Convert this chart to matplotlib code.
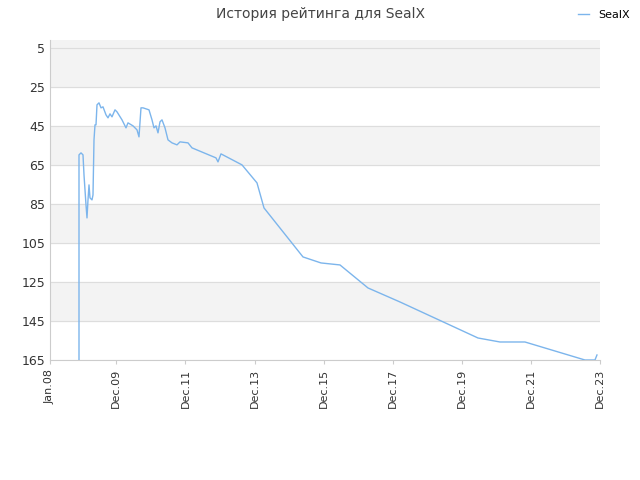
import matplotlib
matplotlib.use("Agg")
import matplotlib.pyplot as plt

# pixel readings converted to (fractional year, rank)
px_x = [79, 79, 81, 83, 84, 86, 87, 88, 89, 90, 92, 93, 94, 95, 96, 97, 99, 101, 103,
        106, 108, 110, 112, 115, 117, 122, 126, 128, 133, 137, 139, 141, 143, 149, 152,
        154, 156, 158, 160, 162, 165, 168, 172, 177, 180, 188, 192, 216, 218, 221, 242,
        257, 264, 303, 321, 340, 368, 400, 478, 500, 525, 585, 595, 597]
px_y = [360, 155, 153, 155, 175, 205, 218, 200, 185, 198, 200, 195, 140, 125, 125, 105,
        103, 108, 107, 115, 118, 114, 117, 110, 112, 120, 128, 123, 126, 130, 137, 108,
        108, 110, 120, 128, 126, 133, 122, 120, 128, 140, 143, 145, 142, 143, 148, 158,
        162, 154, 165, 183, 208, 257, 263, 265, 288, 302, 338, 342, 342, 360, 360, 355]
years = [2008 + (x - 50) / 34.55 for x in px_x]
ranks = [5 + (y - 48) / 1.95 for y in px_y]

tick_years = [2008.0, 2009.92, 2011.92, 2013.92, 2015.92, 2017.92, 2019.92, 2021.92, 2023.92]
tick_labels = ["Jan.08", "Dec.09", "Dec.11", "Dec.13", "Dec.15", "Dec.17", "Dec.19", "Dec.21", "Dec.23"]
y_ticks = [5, 25, 45, 65, 85, 105, 125, 145, 165]

fig = plt.figure(figsize=(6.4, 4.8), dpi=100)
ax = fig.add_axes([50 / 640, 1 - 360 / 480, 550 / 640, 320 / 480])
ax.set_facecolor("white")
ax.axhspan(1, 5, color="#f3f3f3", zorder=0)
for lo in [5, 45, 85, 125]:
    ax.axhspan(lo, lo + 20, color="#f3f3f3", zorder=0)
for t in y_ticks:
    ax.axhline(t, color="#dddddd", lw=0.8, zorder=1)

ax.plot(years, ranks, color="#7cb5ec", lw=1, label="SealX", zorder=3)

ax.set_xlim(tick_years[0], tick_years[-1])
ax.set_ylim(165, 1)
ax.set_yticks(y_ticks)
ax.set_xticks(tick_years)
ax.set_xticklabels(tick_labels, rotation=90, fontsize=8, color="#333333")
ax.tick_params(axis="y", labelsize=9, colors="#333333", length=0)
ax.tick_params(axis="x", length=3, color="#cccccc")
for s in ["top", "right"]:
    ax.spines[s].set_visible(False)
ax.spines["left"].set_color("#cccccc")
ax.spines["bottom"].set_color("#cccccc")

fig.suptitle("История рейтинга для SealX", y=0.985, fontsize=10, color="#444444")
fig.legend(loc="upper right", bbox_to_anchor=(1.0, 1.0), frameon=False, fontsize=8,
           handlelength=1, handletextpad=0.8)
fig.savefig("out.png", dpi=100)
